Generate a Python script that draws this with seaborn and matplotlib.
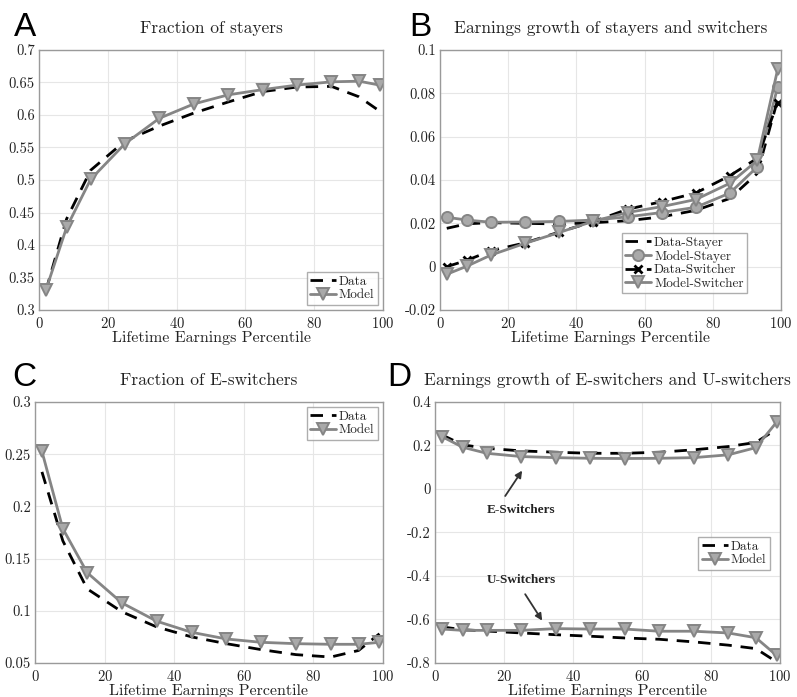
import matplotlib
matplotlib.use("Agg")
import matplotlib.pyplot as plt
import seaborn as sns
import numpy as np
import pandas as pd

# ---------------- data ----------------
pct = [2, 8, 15, 25, 35, 45, 55, 65, 75, 85, 93, 99]

stayers_data = [0.33, 0.44, 0.515, 0.56, 0.583, 0.603, 0.62, 0.636, 0.643, 0.644, 0.628, 0.606]
stayers_model = [0.331, 0.427, 0.501, 0.556, 0.595, 0.617, 0.631, 0.639, 0.646, 0.651, 0.652, 0.646]

growth_stayer_data = [0.0177, 0.0198, 0.0203, 0.0200, 0.0197, 0.0203, 0.0212, 0.0230, 0.0260, 0.0315, 0.0430, 0.0770]
growth_stayer_model = [0.0228, 0.0215, 0.0205, 0.0206, 0.0209, 0.0215, 0.0230, 0.0250, 0.0274, 0.0340, 0.0460, 0.0830]
growth_switcher_data = [0.0000, 0.0030, 0.0074, 0.0110, 0.0160, 0.0208, 0.0265, 0.0300, 0.0340, 0.0420, 0.0500, 0.0757]
growth_switcher_model = [-0.0035, 0.0003, 0.0054, 0.0108, 0.0158, 0.0210, 0.0250, 0.0277, 0.0310, 0.0385, 0.0490, 0.0910]

eswitch_data = [0.233, 0.167, 0.121, 0.099, 0.0845, 0.075, 0.0685, 0.0628, 0.058, 0.0557, 0.062, 0.078]
eswitch_model = [0.2527, 0.1787, 0.1365, 0.1075, 0.090, 0.0794, 0.073, 0.0698, 0.0685, 0.0679, 0.0679, 0.0698]

egrowth_e_data = [0.249, 0.203, 0.187, 0.175, 0.169, 0.164, 0.164, 0.169, 0.180, 0.195, 0.214, 0.275]
egrowth_e_model = [0.241, 0.192, 0.164, 0.149, 0.144, 0.141, 0.140, 0.141, 0.144, 0.157, 0.190, 0.307]
egrowth_u_data = [-0.634, -0.647, -0.653, -0.662, -0.670, -0.677, -0.685, -0.691, -0.703, -0.718, -0.734, -0.795]
egrowth_u_model = [-0.644, -0.650, -0.650, -0.650, -0.642, -0.644, -0.644, -0.654, -0.654, -0.662, -0.684, -0.765]

xlabel = "Lifetime Earnings Percentile"
titles = ["Fraction of stayers", "Earnings growth of stayers and switchers",
          "Fraction of E-switchers", "Earnings growth of E-switchers and U-switchers"]
letters = ["A", "B", "C", "D"]

# ---------------- style ----------------
sns.set_style("white")
plt.rcParams["font.family"] = ["cmr10", "DejaVu Serif"]
plt.rcParams["axes.unicode_minus"] = False
plt.rcParams["axes.formatter.use_mathtext"] = True

GRAY = "#858585"
FACE = "#a9a9a9"
FRAME = "#9a9a9a"

data_kw = dict(color="black", linestyle=(0, (4.5, 3.2)), linewidth=2.0)
model_tri = dict(color=GRAY, linewidth=2.0, marker="v", markersize=9,
                 markerfacecolor=FACE, markeredgecolor=GRAY, markeredgewidth=1.4)
model_circ = dict(color=GRAY, linewidth=2.0, marker="o", markersize=8,
                  markerfacecolor=FACE, markeredgecolor=GRAY, markeredgewidth=1.4)

fig = plt.figure(figsize=(7.97, 6.97), dpi=100)
axA = fig.add_axes([0.049, 0.5552, 0.4316, 0.3731])
axB = fig.add_axes([0.552, 0.5552, 0.428, 0.3731])
axC = fig.add_axes([0.0439, 0.0488, 0.4366, 0.3745])
axD = fig.add_axes([0.5458, 0.0488, 0.4329, 0.3745])


def style_axes(ax, ylim, yticks, yticklabels):
    ax.set_xlim(0, 100)
    ax.set_ylim(*ylim)
    ax.set_xticks([0, 20, 40, 60, 80, 100])
    ax.set_yticks(yticks)
    ax.set_yticklabels(yticklabels)
    ax.grid(True, color="#e6e6e6", linewidth=0.8)
    ax.set_axisbelow(True)
    for s in ax.spines.values():
        s.set_color(FRAME)
        s.set_linewidth(1.0)
    ax.tick_params(direction="in", length=3, width=0.8, color="#555555",
                   labelsize=10.5, pad=3, labelcolor="#222222")
    ax.tick_params(axis="x", pad=4)
    ax.set_xlabel(xlabel, fontsize=11.5, labelpad=0, color="#222222")
    ax.set_ylabel("")


# Panel A
sns.lineplot(x=pct, y=stayers_data, ax=axA, label="Data", **data_kw)
sns.lineplot(x=pct, y=stayers_model, ax=axA, label="Model", **model_tri)
style_axes(axA, (0.3, 0.7), np.arange(0.3, 0.701, 0.05),
           ["0.3", "0.35", "0.4", "0.45", "0.5", "0.55", "0.6", "0.65", "0.7"])

# Panel B
sns.lineplot(x=pct, y=growth_stayer_data, ax=axB, label="Data-Stayer", **data_kw)
sns.lineplot(x=pct, y=growth_stayer_model, ax=axB, label="Model-Stayer", **model_circ)
sns.lineplot(x=pct, y=growth_switcher_data, ax=axB, label="Data-Switcher",
             marker="x", markersize=6, markeredgewidth=2.0,
             markeredgecolor="black", markerfacecolor="black", **data_kw)
sns.lineplot(x=pct, y=growth_switcher_model, ax=axB, label="Model-Switcher", **model_tri)
style_axes(axB, (-0.02, 0.1), np.arange(-0.02, 0.1001, 0.02),
           ["-0.02", "0", "0.02", "0.04", "0.06", "0.08", "0.1"])

# Panel C
sns.lineplot(x=pct, y=eswitch_data, ax=axC, label="Data", **data_kw)
sns.lineplot(x=pct, y=eswitch_model, ax=axC, label="Model", **model_tri)
style_axes(axC, (0.05, 0.3), np.arange(0.05, 0.301, 0.05),
           ["0.05", "0.1", "0.15", "0.2", "0.25", "0.3"])

# Panel D
sns.lineplot(x=pct, y=egrowth_e_data, ax=axD, label="Data", **data_kw)
sns.lineplot(x=pct, y=egrowth_e_model, ax=axD, label="Model", **model_tri)
sns.lineplot(x=pct, y=egrowth_u_data, ax=axD, **data_kw)
sns.lineplot(x=pct, y=egrowth_u_model, ax=axD, **model_tri)
style_axes(axD, (-0.8, 0.4), np.arange(-0.8, 0.401, 0.2),
           ["-0.8", "-0.6", "-0.4", "-0.2", "0", "0.2", "0.4"])

ann_font = dict(family="Liberation Serif", fontweight="bold", fontsize=9.5, color="#222222")
axD.annotate("", xy=(25.7, 0.095), xytext=(19.9, -0.043),
             arrowprops=dict(arrowstyle="-|>", color="#333333", lw=1.3, mutation_scale=10))
axD.text(24.9, -0.097, "E-Switchers", ha="center", va="center", **ann_font)
axD.annotate("", xy=(31.5, -0.616), xytext=(25.7, -0.473),
             arrowprops=dict(arrowstyle="-|>", color="#333333", lw=1.3, mutation_scale=10))
axD.text(24.9, -0.42, "U-Switchers", ha="center", va="center", **ann_font)

# legends
leg_kw = dict(fontsize=9.5, frameon=True, fancybox=False, handlelength=2.0,
              handletextpad=0.2, borderpad=0.25, labelspacing=0.1, borderaxespad=0.4)
lgA = axA.legend(loc="lower right", **leg_kw)
lgC = axC.legend(loc="upper right", **leg_kw)
lgD = axD.legend(loc="center right", bbox_to_anchor=(0.985, 0.42), **leg_kw)
lgB = axB.legend(loc="lower right", bbox_to_anchor=(0.915, 0.045), **leg_kw)
for lg in [lgA, lgB, lgC, lgD]:
    lg.get_frame().set_edgecolor(FRAME)
    lg.get_frame().set_linewidth(1.0)

# titles and panel letters
for ax, t in zip([axA, axB, axC, axD], titles):
    ax.set_title(t, fontsize=12.5, pad=12, color="#222222")

letter_font = dict(family="Liberation Sans", fontsize=24, color="black")
fig.text(0.018, 0.949, "A", ha="left", va="baseline", **letter_font)
fig.text(0.514, 0.949, "B", ha="left", va="baseline", **letter_font)
fig.text(0.015, 0.446, "C", ha="left", va="baseline", **letter_font)
fig.text(0.486, 0.446, "D", ha="left", va="baseline", **letter_font)

fig.savefig("out.png", dpi=100)
